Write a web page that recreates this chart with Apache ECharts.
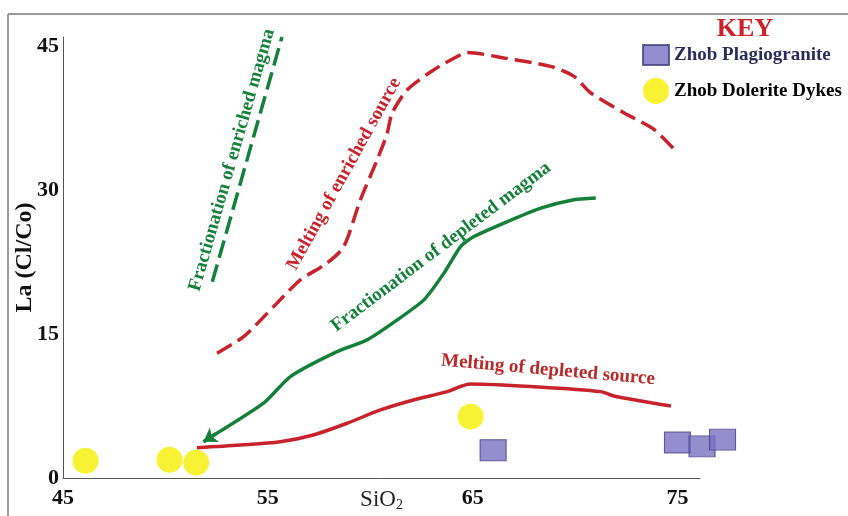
<!DOCTYPE html>
<html>
<head>
<meta charset="utf-8">
<script src="https://cdn.jsdelivr.net/npm/echarts@6/dist/echarts.min.js"></script>
<style>
html,body{margin:0;padding:0;background:#fff;}
#chart{width:848px;height:516px;}
</style>
</head>
<body>
<div id="chart"></div>
<script>
// ---- data (SiO2, La (Cl/Co)) ----
var xTickLabels = [45, 55, 65, 75];
var yTickLabels = [0, 15, 30, 45];

var plagiogranite = [[66.0, 2.9], [75.0, 3.7], [76.2, 3.3], [77.2, 4.0]];
var doleriteDykes = [[46.1, 1.8], [50.2, 1.9], [51.5, 1.6], [64.9, 6.4]];

var meltingDepletedSource = [
  [51.54, 3.16], [53.66, 3.44], [55.61, 3.79], [57.22, 4.49], [58.87, 5.71],
  [60.50, 7.10], [62.11, 8.14], [63.76, 9.01], [64.90, 9.81], [67.98, 9.53],
  [71.26, 9.01], [71.89, 8.56], [74.68, 7.52]
];
var fractDepletedMagma = [
  [51.86, 3.79], [54.79, 7.80], [56.10, 10.58], [58.38, 13.18], [59.85, 14.41],
  [61.32, 16.49], [62.62, 18.58], [63.60, 21.37], [64.41, 24.14], [65.06, 25.19],
  [66.70, 26.75], [68.33, 28.15], [69.95, 29.02], [71.01, 29.20]
];
var meltingEnrichedSource = [
  [52.52, 13.02], [53.82, 14.75], [55.45, 18.24], [56.59, 20.67], [57.89, 22.41],
  [58.71, 24.14], [59.52, 29.02], [60.34, 33.19], [60.83, 35.98], [61.07, 38.07],
  [61.81, 40.50], [63.11, 42.59], [64.41, 44.15], [64.74, 44.39], [66.53, 43.81],
  [68.81, 42.93], [69.95, 41.89], [70.77, 40.16], [72.40, 38.07], [73.87, 36.33],
  [75.01, 33.89]
];
var fractEnrichedMagma = [[52.29, 20.46], [55.69, 46.0]];
var arrowSegment = [[52.45, 4.59], [51.86, 3.79]];

var SERIF = "'Liberation Serif','DejaVu Serif',serif";
var RED = '#c8232c';
var GREEN = '#15803a';

var chart = echarts.init(document.getElementById('chart'), null, {renderer: 'canvas'});

function deg(d){ return d * Math.PI / 180; }

var option = {
  animation: false,
  backgroundColor: '#fff',
  grid: {left: 63, right: 148, top: 37, bottom: 38, containLabel: false, outerBoundsMode: 'none'},
  xAxis: {
    type: 'value', min: 45, max: 76.1, interval: 5,
    axisLine: {show: true, lineStyle: {color: '#555', width: 1}},
    axisTick: {show: false},
    splitLine: {show: false},
    axisLabel: {
      margin: 9, showMaxLabel: false,
      fontFamily: SERIF, fontWeight: 'bold', fontSize: 22, color: '#111',
      formatter: function(v){ return xTickLabels.indexOf(v) >= 0 ? String(v) : ''; }
    },
    name: 'SiO{s|2}', nameLocation: 'middle', nameGap: 10, nameMoveOverlap: false,
    nameTextStyle: {
      fontFamily: SERIF, fontSize: 23, color: '#222',
      rich: {s: {fontFamily: SERIF, fontSize: 14, color: '#222', padding: [10, 0, 0, 0]}}
    }
  },
  yAxis: {
    type: 'value', min: 0, max: 46, interval: 15,
    axisLine: {show: true, lineStyle: {color: '#555', width: 1}},
    axisTick: {show: false},
    splitLine: {show: false},
    axisLabel: {
      margin: 4, showMaxLabel: false,
      fontFamily: SERIF, fontWeight: 'bold', fontSize: 22, color: '#111',
      formatter: function(v){ return yTickLabels.indexOf(v) >= 0 ? String(v) : ''; }
    },
    name: 'La (Cl/Co)', nameLocation: 'middle', nameGap: 26, nameRotate: 90, nameMoveOverlap: false,
    nameTextStyle: {fontFamily: SERIF, fontWeight: 'bold', fontSize: 24, color: '#111'}
  },
  legend: {
    orient: 'vertical', left: 637, top: 39,
    itemWidth: 26, itemHeight: 26, itemGap: 12,
    textStyle: {fontFamily: SERIF, fontWeight: 'bold', fontSize: 19, color: '#000'},
    data: [
      {name: 'Zhob Plagiogranite', icon: 'path://M0,0H26V20H0Z', textStyle: {color: '#2b2b5e', fontSize: 19}},
      {name: 'Zhob Dolerite Dykes', icon: 'circle', textStyle: {color: '#000', fontSize: 19}}
    ]
  },
  series: [
    {
      name: 'Melting of depleted source', type: 'line', data: meltingDepletedSource,
      smooth: 0.3, showSymbol: false, lineStyle: {color: RED, width: 3.5}, z: 2
    },
    {
      name: 'Fractionation of depleted magma', type: 'line', data: fractDepletedMagma,
      smooth: 0.2, showSymbol: false, lineStyle: {color: GREEN, width: 3.5}, z: 2
    },
    {
      name: 'arrow', type: 'lines', coordinateSystem: 'cartesian2d',
      symbol: ['none', 'arrow'], symbolSize: 13,
      lineStyle: {color: GREEN, width: 3.5, opacity: 1},
      data: [{coords: arrowSegment}], z: 3
    },
    {
      name: 'Melting of enriched source', type: 'line', data: meltingEnrichedSource,
      smooth: 0.25, showSymbol: false, lineStyle: {color: RED, width: 3.5, type: [17, 7]}, z: 2
    },
    {
      name: 'Fractionation of enriched magma', type: 'line', data: fractEnrichedMagma,
      showSymbol: false, lineStyle: {color: GREEN, width: 3.5, type: [18, 7]}, z: 2
    },
    {
      name: 'Zhob Plagiogranite', type: 'scatter', data: plagiogranite, clip: false,
      symbol: 'rect', symbolSize: [26, 21],
      itemStyle: {color: '#7b72c2', borderColor: '#3f3f7e', borderWidth: 1}, z: 4
    },
    {
      name: 'Zhob Dolerite Dykes', type: 'scatter', data: doleriteDykes, clip: false,
      symbol: 'circle', symbolSize: 26,
      itemStyle: {color: '#f5ef00'}, z: 4
    }
  ],
  graphic: [
    {type: 'line', shape: {x1: 8, y1: 14, x2: 848, y2: 14}, style: {stroke: '#9a9a9a', lineWidth: 2}},
    {type: 'line', shape: {x1: 8, y1: 14, x2: 8, y2: 516}, style: {stroke: '#9a9a9a', lineWidth: 2}},
    {type: 'text', x: 745, y: 29, style: {text: 'KEY', fontFamily: SERIF, fontWeight: 'bold', fontSize: 26, fill: '#cc2229', align: 'center', verticalAlign: 'middle'}},
    {type: 'text', x: 232, y: 160, rotation: deg(74), style: {text: 'Fractionation of enriched magma', fontFamily: SERIF, fontWeight: 'bold', fontSize: 19, fill: GREEN, align: 'center', verticalAlign: 'middle'}},
    {type: 'text', x: 344, y: 174, rotation: deg(61), style: {text: 'Melting of enriched source', fontFamily: SERIF, fontWeight: 'bold', fontSize: 19, fill: RED, align: 'center', verticalAlign: 'middle'}},
    {type: 'text', x: 441, y: 247, rotation: deg(37), style: {text: 'Fractionation of depleted magma', fontFamily: SERIF, fontWeight: 'bold', fontSize: 19, fill: GREEN, align: 'center', verticalAlign: 'middle'}},
    {type: 'text', x: 548, y: 370, rotation: deg(-5), style: {text: 'Melting of depleted source', fontFamily: SERIF, fontWeight: 'bold', fontSize: 19, fill: '#b82a2a', align: 'center', verticalAlign: 'middle'}}
  ]
};
chart.setOption(option);
</script>
</body>
</html>
